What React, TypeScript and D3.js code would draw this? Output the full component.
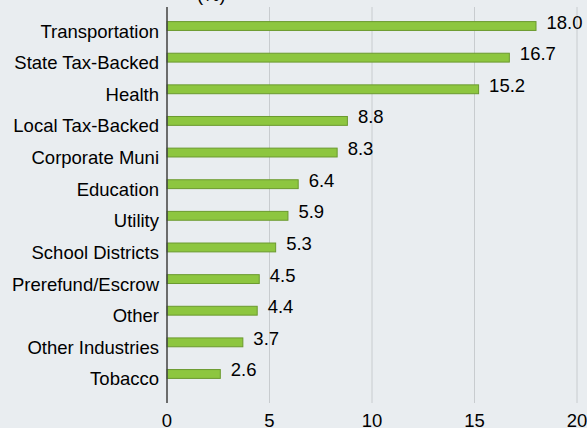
import React from "react";
import * as d3 from "d3";

const categories = [
  "Transportation",
  "State Tax-Backed",
  "Health",
  "Local Tax-Backed",
  "Corporate Muni",
  "Education",
  "Utility",
  "School Districts",
  "Prerefund/Escrow",
  "Other",
  "Other Industries",
  "Tobacco",
];
const values = [18.0, 16.7, 15.2, 8.8, 8.3, 6.4, 5.9, 5.3, 4.5, 4.4, 3.7, 2.6];
const xTicks = [0, 5, 10, 15, 20];

export default function App() {
  const W = 587;
  const H = 428;
  const x = d3.scaleLinear().domain([0, 20]).range([167, 577]);
  const y = d3
    .scaleBand<string>()
    .domain(categories)
    .range([10.2, 389.8])
    .paddingInner(0.72)
    .paddingOuter(0.36);
  const gridTop = 7;
  const gridBottom = 403;
  const font = "'Liberation Sans', Arial, sans-serif";
  const fs = 18.5;
  return (
    <svg
      width={W}
      height={H}
      style={{ position: "absolute", left: 0, top: 0, display: "block" }}
    >
      <rect x={0} y={0} width={W} height={H} fill="#E9EDF0" />
      <text x={197} y={1} fontFamily={font} fontSize={fs} fill="#000">
        (%)
      </text>
      {xTicks.slice(1).map((t) => (
        <line
          key={t}
          x1={x(t)}
          x2={x(t)}
          y1={gridTop}
          y2={gridBottom}
          stroke="#C8CCCF"
          strokeWidth={1}
        />
      ))}
      {categories.map((c, i) => {
        const by = y(c)!;
        const bh = y.bandwidth();
        const cy = by + bh / 2;
        return (
          <g key={c}>
            <rect
              x={x(0)}
              y={by}
              width={x(values[i]) - x(0)}
              height={bh}
              fill="#8DC63F"
              stroke="#6B9A2E"
              strokeWidth={1}
            />
            <text
              x={x(values[i]) + 10.5}
              y={cy + 2.5}
              fontFamily={font}
              fontSize={fs}
              fill="#000"
            >
              {values[i].toFixed(1)}
            </text>
            <text
              x={159}
              y={cy + 11.5}
              textAnchor="end"
              fontFamily={font}
              fontSize={fs}
              fill="#000"
            >
              {c}
            </text>
          </g>
        );
      })}
      <line
        x1={x(0)}
        x2={x(0)}
        y1={gridTop}
        y2={gridBottom}
        stroke="#404040"
        strokeWidth={1.5}
      />
      {xTicks.map((t) => (
        <text
          key={t}
          x={x(t)}
          y={427}
          textAnchor="middle"
          fontFamily={font}
          fontSize={fs}
          fill="#000"
        >
          {t}
        </text>
      ))}
    </svg>
  );
}
